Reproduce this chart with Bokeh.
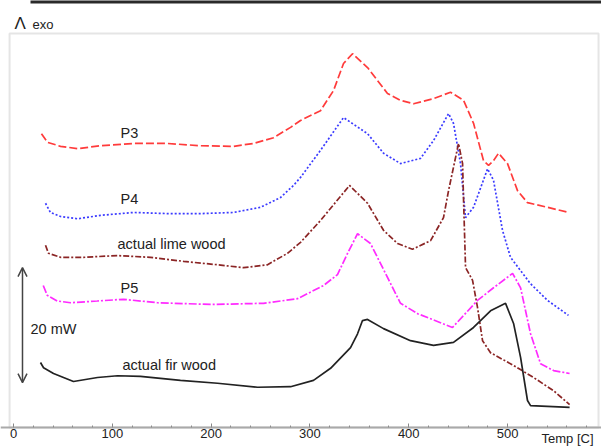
from bokeh.plotting import figure
from bokeh.models import Range1d, FixedTicker, Label, Arrow, OpenHead, BoxAnnotation
from bokeh.embed import file_html
from bokeh.resources import INLINE

# Temperature (C) and heat flow (mW, curves shown with their display offsets)
p3_t = [28.3, 34.4, 47.6, 64.8, 88.1, 121.5, 155.9, 189.3, 222.7, 242.9, 263.2, 280.4, 290.5, 310.7,
        323.9, 334.0, 343.1, 358.3, 378.5, 391.7, 404.9, 425.1, 442.3, 455.5, 465.6, 475.7, 480.8,
        485.8, 490.9, 500.0, 510.1, 520.2, 540.5, 561.7]
p3_y = [51.1, 49.6, 48.9, 48.5, 49.0, 49.4, 49.4, 49.0, 48.9, 49.4, 50.4, 52.2, 53.4, 55.1,
        58.6, 63.3, 65.0, 62.6, 58.1, 56.9, 56.3, 57.2, 58.3, 56.9, 52.9, 46.4, 45.6,
        46.4, 47.7, 45.9, 41.2, 39.1, 38.3, 37.4]

p4_t = [32.4, 37.4, 47.6, 64.8, 88.1, 121.5, 155.9, 189.3, 222.7, 250.0, 270.2, 283.4, 290.5, 310.7,
        334.0, 358.3, 374.5, 391.7, 411.9, 425.1, 440.3, 445.3, 452.4, 457.5, 465.6, 479.8, 485.8,
        494.9, 503.0, 523.3, 540.5, 561.7]
p4_y = [39.0, 37.4, 36.7, 36.3, 36.9, 37.4, 37.2, 37.2, 37.4, 38.3, 40.0, 42.1, 43.5, 48.2,
        53.9, 51.1, 47.7, 45.9, 46.8, 49.9, 54.6, 52.9, 45.9, 36.5, 38.3, 45.0, 43.0,
        34.3, 29.6, 25.0, 22.1, 19.5]

lime_t = [32.4, 35.4, 47.6, 70.9, 105.3, 138.7, 172.1, 206.5, 232.8, 257.1, 277.3, 290.5, 310.7, 340.1,
          358.3, 374.5, 388.7, 403.8, 422.1, 435.2, 440.3, 450.4, 454.5, 455.5, 457.5, 464.6, 469.6,
          474.7, 482.8, 506.1, 526.3, 546.6, 562.8]
lime_y = [31.7, 30.3, 29.6, 29.6, 29.9, 29.6, 28.9, 28.3, 27.8, 28.3, 30.3, 32.2, 36.0, 42.1,
          39.0, 34.3, 32.0, 31.0, 32.5, 36.5, 41.2, 49.4, 45.9, 39.5, 27.8, 25.6, 20.9,
          15.1, 13.0, 10.8, 8.7, 6.4, 4.0]

p5_t = [30.1, 34.1, 44.2, 57.7, 84.7, 111.3, 145.7, 199.4, 253.0, 287.4, 313.8, 327.9, 338.1, 348.2,
        361.3, 376.5, 391.7, 409.0, 444.3, 469.6, 485.8, 505.1, 513.2, 523.3, 533.4, 546.6, 562.8]
p5_y = [24.7, 23.0, 22.0, 21.7, 22.0, 22.3, 21.7, 21.4, 21.6, 22.4, 24.7, 26.6, 30.3, 33.7,
        32.0, 26.8, 21.6, 19.8, 17.4, 22.1, 24.3, 26.8, 24.3, 16.3, 11.1, 9.9, 9.4]

fir_t = [27.3, 30.4, 40.5, 60.7, 85.0, 105.3, 128.5, 169.0, 206.5, 247.0, 280.4, 303.6, 320.9, 341.1,
         348.2, 353.2, 358.3, 374.5, 401.8, 425.1, 445.3, 465.6, 482.8, 498.0, 506.1, 513.2, 520.2,
         523.3, 562.8]
fir_y = [11.3, 10.4, 9.4, 8.0, 8.7, 9.0, 8.9, 8.2, 7.7, 7.0, 7.1, 8.2, 10.3, 13.9,
         16.3, 18.6, 18.8, 17.2, 15.1, 14.3, 14.8, 17.4, 20.3, 21.6, 18.1, 12.2, 4.7,
         3.8, 3.5]

x_ticks = [0, 100, 200, 300, 400, 500]
x_minor = list(range(0, 600, 20))

# plotting box (data units) and full view range
BOX_L, BOX_R, BOX_B, BOX_T = -4.0, 592.1, 0.0, 68.5

FONT = "Liberation Sans"
TXT = "#222222"
GRAY = "#aaaaaa"

p = figure(width=601, height=446, output_backend="svg", toolbar_location=None,
           x_range=Range1d(-13.16, 595.1), y_range=Range1d(-3.30, 74.26),
           y_axis_location=None, min_border=0,
           min_border_left=0, min_border_right=0, min_border_top=0, min_border_bottom=0)
p.grid.visible = False
p.outline_line_color = None
p.background_fill_color = "white"
p.border_fill_color = "white"

ax = p.xaxis[0]
ax.fixed_location = BOX_B
ax.ticker = FixedTicker(ticks=x_ticks, minor_ticks=x_minor)
ax.axis_line_color = GRAY
ax.axis_line_width = 2
ax.major_tick_in = 4
ax.major_tick_out = 0
ax.minor_tick_in = 2
ax.minor_tick_out = 0
ax.major_tick_line_color = "#888888"
ax.minor_tick_line_color = "#888888"
ax.major_label_text_font = FONT
ax.major_label_text_font_size = "13px"
ax.major_label_text_color = TXT
ax.major_label_standoff = 1

# frame of the plotting box
p.add_layout(BoxAnnotation(left=BOX_L, right=BOX_R, bottom=BOX_B, top=BOX_T,
                           fill_alpha=0, line_color=GRAY, line_width=2))
# dark rule at the very top of the picture
p.add_layout(BoxAnnotation(left=17.2, right=595.1, bottom=73.75, top=74.4,
                           fill_color="#2a2a2a", fill_alpha=1.0, line_alpha=0))

p.line(p3_t, p3_y, line_color="#ff3b3b", line_width=1.7, line_dash="8 3")
p.line(p4_t, p4_y, line_color="#3b3bff", line_width=1.7, line_dash="2 2")
p.line(lime_t, lime_y, line_color="#8b2525", line_width=1.7, line_dash="6 2 2 2")
p.line(p5_t, p5_y, line_color="#ff2bff", line_width=1.7, line_dash="8 2 2 2")
p.line(fir_t, fir_y, line_color="#222222", line_width=1.7)

def lab(x, y, t, size="14.5px", align="left"):
    p.add_layout(Label(x=x, y=y, text=t, text_font=FONT, text_font_size=size,
                       text_color=TXT, text_baseline="middle", text_align=align))

lab(108.3, 51.3, "P3")
lab(108.3, 39.8, "P4")
lab(105.3, 32.0, "actual lime wood")
lab(108.3, 24.2, "P5")
lab(110.3, 10.8, "actual fir wood")
lab(17.2, 17.2, "20 mW")
lab(1.0, 70.2, "Λ", size="17px")
lab(19.2, 70.0, "exo", size="13px")
lab(534.4, -1.95, "Temp  [C]", size="13px")

p.add_layout(Arrow(x_start=9.1, y_start=7.8, x_end=9.1, y_end=27.8,
                   line_color="#444444", line_width=1.5,
                   start=OpenHead(size=9, line_color="#444444", line_width=1.5),
                   end=OpenHead(size=9, line_color="#444444", line_width=1.5)))

open("out.html", "w").write(file_html(p, INLINE))
